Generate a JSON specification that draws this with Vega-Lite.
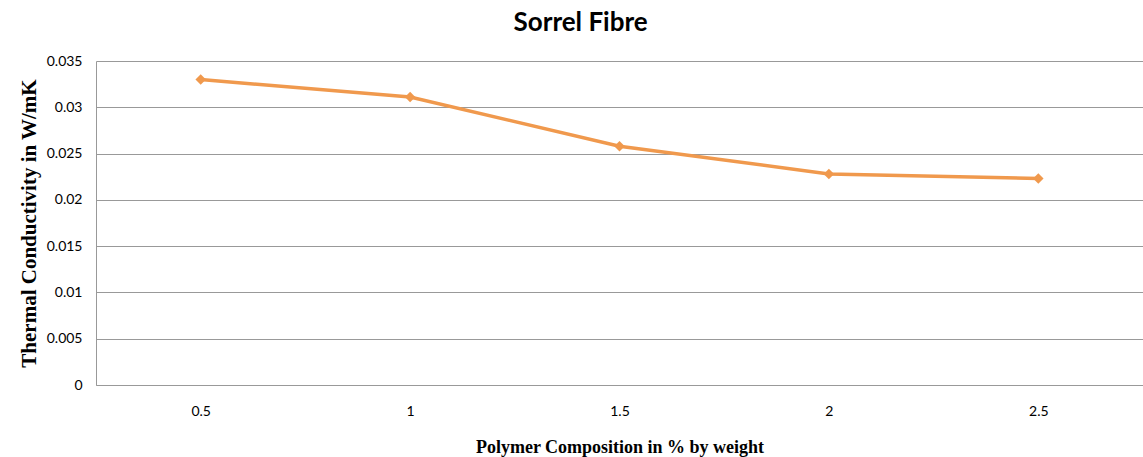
{
  "$schema": "https://vega.github.io/schema/vega-lite/v6.json",
  "autosize": {"type": "none"},
  "padding": {"left": 96, "top": 61, "right": 0, "bottom": 72},
  "width": 1047,
  "height": 324,
  "background": "white",
  "title": {
    "text": "Sorrel Fibre",
    "font": "Lato",
    "fontSize": 26,
    "fontWeight": "bold",
    "color": "#000000",
    "anchor": "middle",
    "frame": "bounds",
    "offset": 18
  },
  "data": {
    "values": [
      {"composition": "0.5", "conductivity": 0.0330},
      {"composition": "1", "conductivity": 0.0311},
      {"composition": "1.5", "conductivity": 0.0258},
      {"composition": "2", "conductivity": 0.0228},
      {"composition": "2.5", "conductivity": 0.0223}
    ]
  },
  "config": {
    "view": {"stroke": null}
  },
  "mark": {
    "type": "line",
    "color": "#F0994D",
    "strokeWidth": 3.5,
    "point": {"shape": "diamond", "size": 110, "filled": true, "color": "#F0994D"}
  },
  "encoding": {
    "x": {
      "field": "composition",
      "type": "ordinal",
      "sort": null,
      "scale": {"type": "point", "padding": 0.5},
      "axis": {
        "title": "Polymer Composition in % by weight",
        "titleFont": "Liberation Serif",
        "titleFontSize": 18,
        "titleFontWeight": "bold",
        "titleColor": "#000000",
        "titlePadding": 20,
        "labelAngle": 0,
        "labelFont": "Lato",
        "labelFontSize": 14,
        "labelColor": "#000000",
        "labelPadding": 19,
        "ticks": false,
        "domainColor": "#999999",
        "grid": false
      }
    },
    "y": {
      "field": "conductivity",
      "type": "quantitative",
      "scale": {"domain": [0, 0.035], "nice": false},
      "axis": {
        "title": "Thermal Conductivity in W/mK",
        "titleFont": "Liberation Serif",
        "titleFontSize": 21,
        "titleFontWeight": "bold",
        "titleColor": "#000000",
        "titlePadding": 7,
        "values": [0, 0.005, 0.01, 0.015, 0.02, 0.025, 0.03, 0.035],
        "format": "~g",
        "labelFont": "Lato",
        "labelFontSize": 14,
        "labelColor": "#000000",
        "labelPadding": 14,
        "ticks": false,
        "domainColor": "#999999",
        "gridColor": "#999999",
        "gridWidth": 1
      }
    }
  }
}
